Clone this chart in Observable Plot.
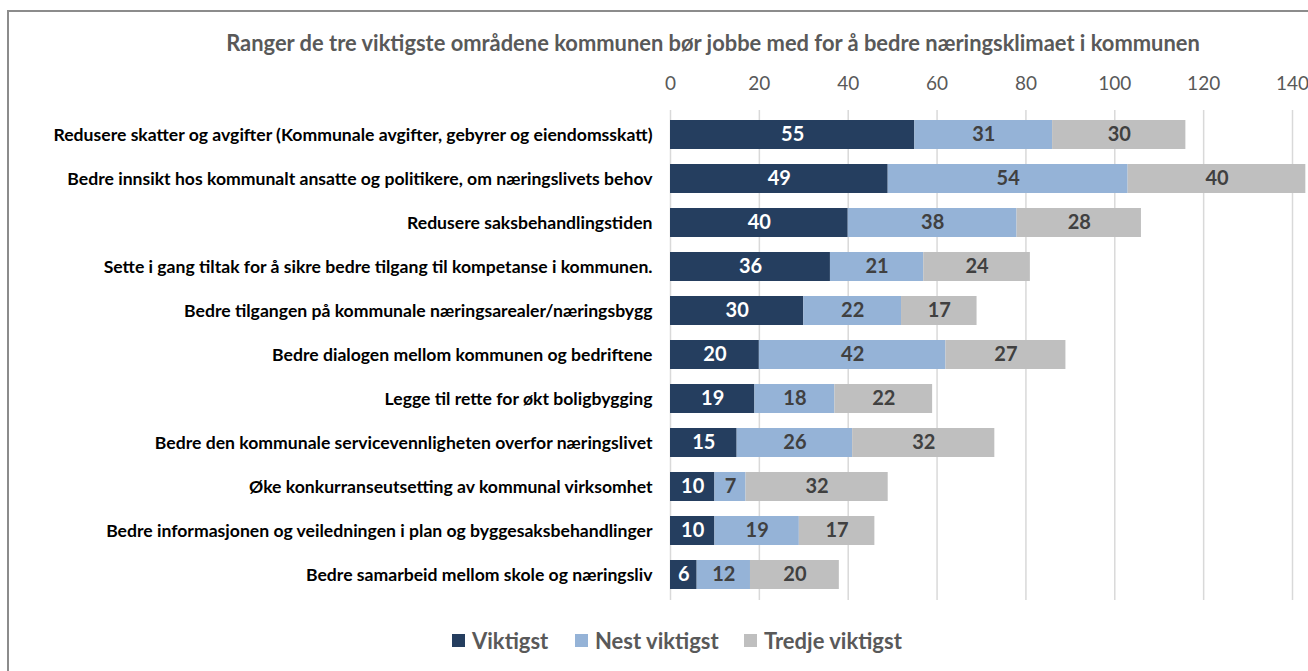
<!DOCTYPE html>
<html>
<head>
<meta charset="utf-8">
<script src="https://cdn.jsdelivr.net/npm/d3@7"></script>
<script src="https://cdn.jsdelivr.net/npm/@observablehq/plot@0.6"></script>
<style>
  html, body { margin: 0; padding: 0; background: #fff; }
  body { position: relative; width: 1308px; height: 671px; overflow: hidden; font-family: Lato, "Open Sans", sans-serif; }
  #frame { position: absolute; left: 7px; top: 10px; width: 1320px; height: 680px; border: 2px solid #8c8c8c; box-sizing: border-box; }
  #title { position: absolute; left: 0; width: 1426px; top: 29px; text-align: center; font-size: 21.9px; font-weight: 700; color: #595959; white-space: nowrap; }
  #chart { position: absolute; left: 0; top: 60px; }
  #legend { position: absolute; top: 627px; left: 0; width: 1308px; font-size: 22px; font-weight: 700; color: #595959; }
  .item { position: absolute; display: flex; align-items: center; white-space: nowrap; }
  .sw { width: 13px; height: 13px; margin-right: 7px; display: inline-block; }
</style>
</head>
<body>
<div id="frame"></div>
<div id="title">Ranger de tre viktigste områdene kommunen bør jobbe med for å bedre næringsklimaet i kommunen</div>
<div id="chart"></div>
<div id="legend"></div>
<script>
const categories = [
  "Redusere skatter og avgifter (Kommunale avgifter, gebyrer og eiendomsskatt)",
  "Bedre innsikt hos kommunalt ansatte og politikere, om næringslivets behov",
  "Redusere saksbehandlingstiden",
  "Sette i gang tiltak for å sikre bedre tilgang til kompetanse i kommunen.",
  "Bedre tilgangen på kommunale næringsarealer/næringsbygg",
  "Bedre dialogen mellom kommunen og bedriftene",
  "Legge til rette for økt boligbygging",
  "Bedre den kommunale servicevennligheten overfor næringslivet",
  "Øke konkurranseutsetting av kommunal virksomhet",
  "Bedre informasjonen og veiledningen i plan og byggesaksbehandlinger",
  "Bedre samarbeid mellom skole og næringsliv"
];
const series = ["Viktigst", "Nest viktigst", "Tredje viktigst"];
const viktigst      = [55, 49, 40, 36, 30, 20, 19, 15, 10, 10, 6];
const nestViktigst  = [31, 54, 38, 21, 22, 42, 18, 26, 7, 19, 12];
const tredjeViktigst= [30, 40, 28, 24, 17, 27, 22, 32, 32, 17, 20];
const xTicks = [0, 20, 40, 60, 80, 100, 120, 140];
const colors = ["#253e5f", "#95b3d7", "#bfbfbf"];
const labelColors = ["#ffffff", "#404040", "#404040"];

const valuesBySeries = [viktigst, nestViktigst, tredjeViktigst];
const data = [];
categories.forEach((c, i) => {
  series.forEach((s, j) => {
    data.push({cat: c, series: s, value: valuesBySeries[j][i]});
  });
});

const chart = Plot.plot({
  width: 1308,
  height: 560,
  marginLeft: 670,
  marginRight: 16,
  marginTop: 50,
  marginBottom: 20,
  style: {fontFamily: "Lato, 'Open Sans', sans-serif", background: "transparent"},
  x: {domain: [0, 140], ticks: xTicks, label: null},
  y: {domain: categories, paddingInner: 0.33, paddingOuter: 0.165, label: null},
  color: {domain: series, range: colors},
  marks: [
    Plot.gridX(xTicks, {stroke: "#d9d9d9", strokeOpacity: 1, strokeWidth: 1.5}),
    Plot.barX(data, Plot.stackX({y: "cat", x: "value", fill: "series", order: series})),
    Plot.text(data, Plot.stackX({
      y: "cat", x: "value", z: "series", order: series, text: "value",
      fill: d => labelColors[series.indexOf(d.series)],
      fontSize: 20, fontWeight: 700
    })),
    Plot.axisX(xTicks, {anchor: "top", tickSize: 0, tickPadding: 21, fontSize: 19, fill: "#595959", label: null, tickFormat: d => String(d)}),
    Plot.axisY({anchor: "left", tickSize: 0, tickPadding: 18, fontSize: 17.6, fontWeight: 700, fill: "#000", label: null})
  ]
});
document.getElementById("chart").appendChild(chart);

const legend = document.getElementById("legend");
const legendX = [452, 575, 744];
series.forEach((s, j) => {
  const item = document.createElement("div");
  item.className = "item";
  item.style.left = legendX[j] + "px";
  const sw = document.createElement("span");
  sw.className = "sw";
  sw.style.background = colors[j];
  item.appendChild(sw);
  const t = document.createElement("span");
  t.textContent = s;
  item.appendChild(t);
  legend.appendChild(item);
});
</script>
</body>
</html>
